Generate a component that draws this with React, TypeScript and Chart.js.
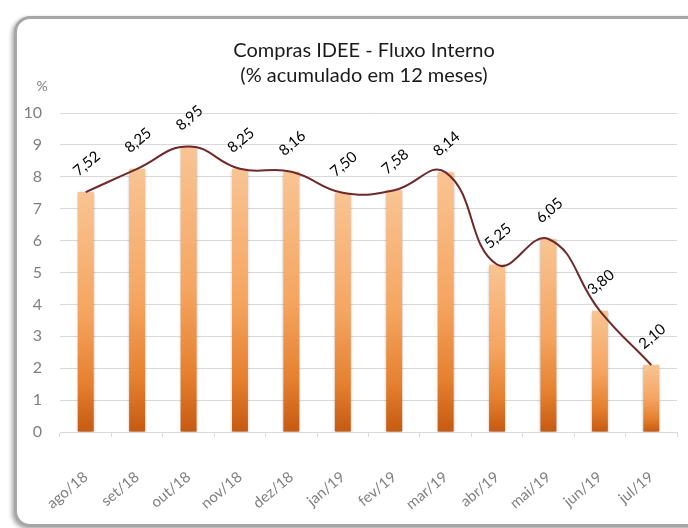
import React, { useEffect, useRef } from "react";
import { Chart, registerables } from "chart.js";

Chart.register(...registerables);

const categories = ["ago/18", "set/18", "out/18", "nov/18", "dez/18", "jan/19", "fev/19", "mar/19", "abr/19", "mai/19", "jun/19", "jul/19"];
const values = [7.52, 8.25, 8.95, 8.25, 8.16, 7.5, 7.58, 8.14, 5.25, 6.05, 3.8, 2.1];
const titleLines = ["Compras IDEE - Fluxo Interno", "(% acumulado em 12 meses)"];
const yUnit = "%";
const yMin = 0;
const yMax = 10;
const yStep = 1;

const FONT = "Lato, 'Open Sans', sans-serif";

const fmt = (v: number) => v.toFixed(2).replace(".", ",");

const textPlugin = {
  id: "customText",
  beforeDatasetDraw(chart: any, args: any) {
    if (chart.data.datasets[args.index].type === "bar") {
      const ctx = chart.ctx;
      ctx.save();
      ctx.shadowColor = "rgba(0,0,0,0.35)";
      ctx.shadowBlur = 3;
      ctx.shadowOffsetX = 0;
      ctx.shadowOffsetY = 1;
    }
  },
  afterDatasetDraw(chart: any, args: any) {
    if (chart.data.datasets[args.index].type === "bar") {
      chart.ctx.restore();
    }
  },
  afterDraw(chart: any) {
    const ctx = chart.ctx;
    ctx.save();
    // Title
    ctx.fillStyle = "#1a1a1a";
    ctx.font = `20px ${FONT}`;
    ctx.textAlign = "center";
    ctx.textBaseline = "middle";
    ctx.fillText(titleLines[0], 364, 51);
    ctx.fillText(titleLines[1], 364, 76);
    // Unit
    ctx.fillStyle = "#7f7f7f";
    ctx.font = `14px ${FONT}`;
    ctx.fillText(yUnit, 42, 86);
    // Data labels
    const lineIdx = chart.data.datasets.findIndex((d: any) => d.type === "line");
    const meta = chart.getDatasetMeta(lineIdx);
    ctx.fillStyle = "#000000";
    ctx.font = `15px ${FONT}`;
    meta.data.forEach((pt: any, i: number) => {
      const v = chart.data.datasets[lineIdx].data[i];
      ctx.save();
      ctx.translate(pt.x + 1, pt.y - 28.5);
      ctx.rotate((-40 * Math.PI) / 180);
      ctx.fillText(fmt(v), 0, 0);
      ctx.restore();
    });
    ctx.restore();
  },
};

export default function App() {
  const ref = useRef<HTMLCanvasElement>(null);
  useEffect(() => {
    const canvas = ref.current!;
    const chart = new Chart(canvas, {
      type: "bar",
      data: {
        labels: categories,
        datasets: [
          {
            type: "line",
            data: values,
            borderColor: "#6e2a2a",
            borderWidth: 2,
            tension: 0.45,
            pointRadius: 0,
            fill: false,
            order: 0,
          } as any,
          {
            type: "bar",
            data: values,
            order: 1,
            barPercentage: 0.31,
            categoryPercentage: 1,
            borderWidth: 0,
            backgroundColor: (c: any) => {
              const chart = c.chart;
              const { ctx, chartArea, scales } = chart;
              if (!chartArea || c.type !== "data" || !scales.y) return "#F4A25E";
              const yTop = scales.y.getPixelForValue(c.raw);
              const yBot = scales.y.getPixelForValue(0);
              const g = ctx.createLinearGradient(0, yTop, 0, yBot);
              g.addColorStop(0, "#F9C493");
              g.addColorStop(0.5, "#F5A560");
              g.addColorStop(0.8, "#E5802F");
              g.addColorStop(1, "#C55A11");
              return g;
            },
          },
        ],
      },
      options: {
        responsive: false,
        animation: false,
        devicePixelRatio: 1,
        layout: { padding: { top: 113, right: 11, bottom: 0, left: 0 } },
        plugins: {
          legend: { display: false },
          title: { display: false },
          tooltip: { enabled: false },
        },
        scales: {
          x: {
            offset: true,
            afterFit: (s: any) => {
              s.height = 96;
              s.paddingLeft = 0;
              s.paddingRight = 0;
            },
            grid: {
              offset: true,
              drawOnChartArea: false,
              drawTicks: true,
              tickLength: 5,
              color: "#d9d9d9",
            },
            border: { display: true, color: "#d9d9d9" },
            ticks: {
              minRotation: 40,
              maxRotation: 40,
              padding: 31,
              color: "#7f7f7f",
              font: { family: FONT, size: 15 },
              autoSkip: false,
            },
          },
          y: {
            min: yMin,
            max: yMax,
            afterFit: (s: any) => {
              s.width = 60;
            },
            grid: { color: "#d9d9d9", drawTicks: false, lineWidth: 1 },
            border: { display: false },
            ticks: {
              stepSize: yStep,
              padding: 18,
              color: "#7f7f7f",
              font: { family: FONT, size: 16 },
            },
          },
        },
      },
      plugins: [textPlugin],
    });
    return () => chart.destroy();
  }, []);
  return (
    <div>
      <div
        style={{
          position: "fixed",
          left: 14,
          top: 16,
          width: 690,
          height: 505,
          border: "3px solid #a6a6a6",
          borderRadius: 16,
          boxShadow: "-2px 2px 4px rgba(0,0,0,0.35)",
          background: "#ffffff",
        }}
      />
      <canvas
        ref={ref}
        width={688}
        height={528}
        style={{ position: "fixed", left: 0, top: 0, width: 688, height: 528, display: "block" }}
      />
    </div>
  );
}
